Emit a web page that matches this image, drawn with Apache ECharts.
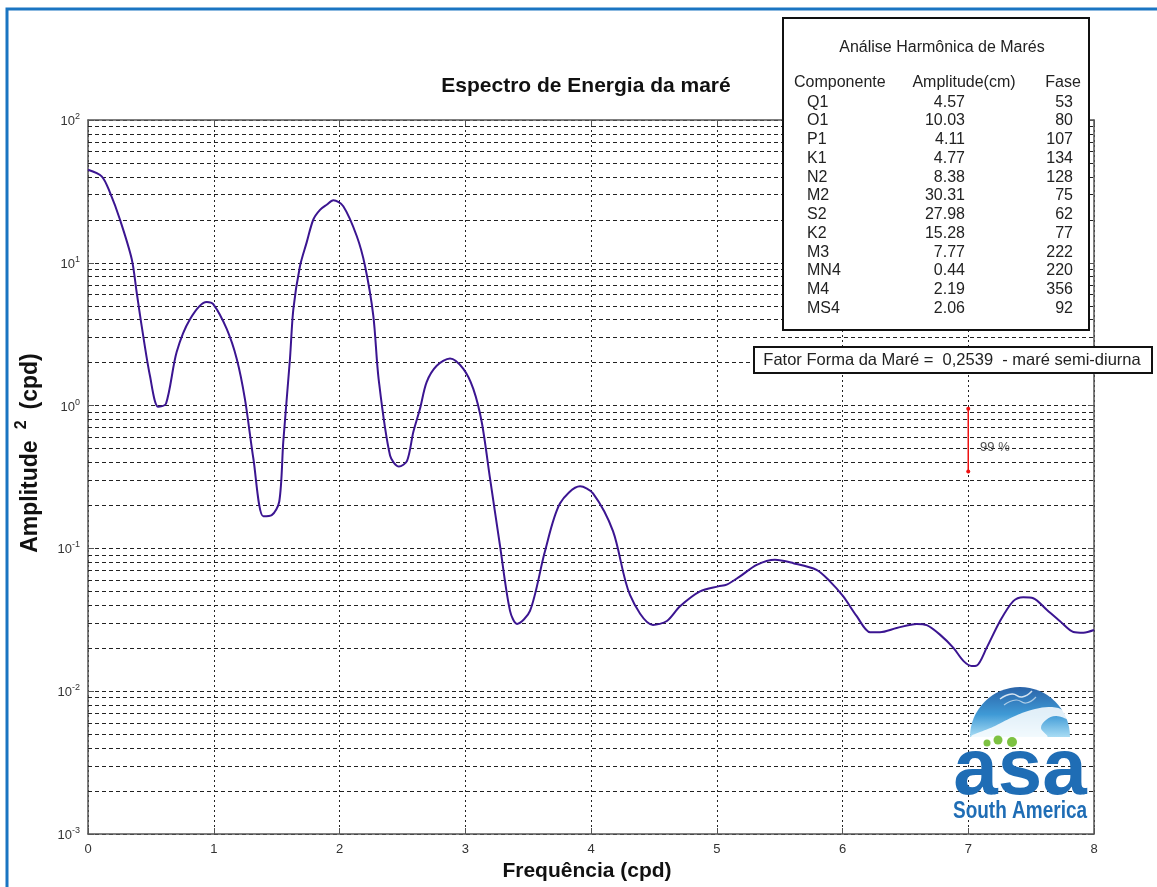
<!DOCTYPE html>
<html>
<head>
<meta charset="utf-8">
<script src="https://cdn.jsdelivr.net/npm/echarts@6/dist/echarts.min.js"></script>
<style>
html,body{margin:0;padding:0;background:#fff;}
#chart{width:1157px;height:887px;}
</style>
</head>
<body>
<div id="chart"></div>
<script>
// ---- Data ----
const freq = [0, 0.109, 0.175, 0.254, 0.348, 0.387, 0.427, 0.493, 0.559, 0.62,
  0.705, 0.811, 0.944, 0.996, 1.103, 1.183, 1.248, 1.315, 1.394, 1.461,
  1.521, 1.553, 1.606, 1.633, 1.686, 1.739, 1.792, 1.845, 1.898, 1.951, 2.03, 2.137,
  2.203, 2.269, 2.311, 2.402, 2.473, 2.537, 2.587, 2.64, 2.693, 2.773,
  2.879, 2.985, 3.064, 3.131, 3.197, 3.276, 3.356, 3.412, 3.515, 3.634,
  3.753, 3.913, 4.016, 4.175, 4.31, 4.493, 4.604, 4.708, 4.867, 5.012,
  5.079, 5.185, 5.318, 5.463, 5.609, 5.794, 5.9, 6.006, 6.113, 6.219,
  6.298, 6.431, 6.59, 6.67, 6.775, 6.882, 6.961, 7.027, 7.067, 7.146,
  7.252, 7.358, 7.437, 7.517, 7.624, 7.73, 7.836, 7.916, 8.0];
const amp = [44.8, 40.3, 31, 20.1, 10.6, 6.22, 3.6, 1.61, 0.98, 1.03,
  2.37, 4.03, 5.32, 5.13, 3.44, 2.12, 1.11, 0.426, 0.168, 0.171,
  0.213, 0.56, 2.12, 4.73, 9.49, 13.9, 20.1, 23.5, 25.5, 27.4, 24.9, 15.4,
  9.5, 4.25, 1.54, 0.447, 0.374, 0.41, 0.653, 0.95, 1.46, 1.9,
  2.14, 1.81, 1.31, 0.767, 0.309, 0.105, 0.0365, 0.0296, 0.0365, 0.0955,
  0.206, 0.272, 0.243, 0.132, 0.0472, 0.0291, 0.031, 0.0393, 0.05, 0.0542,
  0.0557, 0.0637, 0.0767, 0.0832, 0.0788, 0.0708, 0.0588, 0.0461, 0.0335, 0.0259,
  0.0259, 0.0277, 0.0296, 0.029, 0.0249, 0.0201, 0.0163, 0.015, 0.0151, 0.0201,
  0.0309, 0.0427, 0.0455, 0.0448, 0.0372, 0.0309, 0.026, 0.0257, 0.0268];

// 99% confidence bar
const ciFreq = 7;
const ciLow = 0.345;
const ciHigh = 0.95;
const ciLabel = '99 %';
const ciLabelPos = [7.09, 0.51];

// Tick labels
const xTicks = [0, 1, 2, 3, 4, 5, 6, 7, 8];
const yDecades = [-3, -2, -1, 0, 1, 2];

// Harmonic analysis table
const tableTitle = 'Análise Harmônica de Marés';
const tableHeader = ['Componente', 'Amplitude(cm)', 'Fase'];
const components = ['Q1', 'O1', 'P1', 'K1', 'N2', 'M2', 'S2', 'K2', 'M3', 'MN4', 'M4', 'MS4'];
const amplitudes = ['4.57', '10.03', '4.11', '4.77', '8.38', '30.31', '27.98', '15.28', '7.77', '0.44', '2.19', '2.06'];
const phases = ['53', '80', '107', '134', '128', '75', '62', '77', '222', '220', '356', '92'];
const formFactorText = 'Fator Forma da Maré =  0,2539  - maré semi-diurna';

const titleText = 'Espectro de Energia da maré';
const xName = 'Frequência (cpd)';

// ---- Build ----
const lineData = freq.map((f, i) => [f, amp[i]]);

const gridVals = [];
for (let k = yDecades[0]; k < yDecades[yDecades.length - 1]; k++) {
  for (let m = 2; m <= 9; m++) gridVals.push(+(m * Math.pow(10, k)).toPrecision(3));
}
const xMin = xTicks[0], xMax = xTicks[xTicks.length - 1];

const FONT = "'Liberation Sans', Arial, sans-serif";

const chart = echarts.init(document.getElementById('chart'), null, {renderer: 'canvas'});

const L = 88, R = 1094, T = 120, B = 837;

const TF = '16px ' + FONT;
const tbl = [];
tbl.push({type: 'rect', shape: {x: 783, y: 18, width: 306, height: 312},
  style: {fill: '#fff', stroke: '#111', lineWidth: 2}, z: 100});
tbl.push({type: 'text', x: 942, y: 48, z: 101,
  style: {text: tableTitle, font: TF, fill: '#222', textAlign: 'center', textVerticalAlign: 'middle'}});
tbl.push({type: 'text', x: 794, y: 83, z: 101,
  style: {text: tableHeader[0], font: TF, fill: '#222', textAlign: 'left', textVerticalAlign: 'middle'}});
tbl.push({type: 'text', x: 964, y: 83, z: 101,
  style: {text: tableHeader[1], font: TF, fill: '#222', textAlign: 'center', textVerticalAlign: 'middle'}});
tbl.push({type: 'text', x: 1063, y: 83, z: 101,
  style: {text: tableHeader[2], font: TF, fill: '#222', textAlign: 'center', textVerticalAlign: 'middle'}});
components.forEach((c, i) => {
  const y = 102.3 + i * 18.73;
  tbl.push({type: 'text', x: 807, y: y, z: 101,
    style: {text: c, font: TF, fill: '#222', textAlign: 'left', textVerticalAlign: 'middle'}});
  tbl.push({type: 'text', x: 965, y: y, z: 101,
    style: {text: amplitudes[i], font: TF, fill: '#222', textAlign: 'right', textVerticalAlign: 'middle'}});
  tbl.push({type: 'text', x: 1073, y: y, z: 101,
    style: {text: phases[i], font: TF, fill: '#222', textAlign: 'right', textVerticalAlign: 'middle'}});
});
tbl.push({type: 'rect', shape: {x: 754, y: 347, width: 398, height: 26},
  style: {fill: '#fff', stroke: '#111', lineWidth: 2}, z: 100});
tbl.push({type: 'text', x: 952, y: 360, z: 101,
  style: {text: formFactorText, font: '16.5px ' + FONT, fill: '#222', textAlign: 'center', textVerticalAlign: 'middle'}});

tbl.push({type: 'rect', shape: {x: 7, y: 9, width: 1200, height: 950},
  style: {fill: 'none', stroke: '#1a75c2', lineWidth: 3}, z: 120, silent: true});

const logo = [
  {type: 'sector', shape: {cx: 1020, cy: 737, r0: 0, r: 50, startAngle: Math.PI, endAngle: 2 * Math.PI},
    style: {fill: new echarts.graphic.LinearGradient(0, 0, 0, 1, [
      {offset: 0, color: '#2a63a8'}, {offset: 0.55, color: '#3f9ad6'}, {offset: 1, color: '#a8dcf4'}])}, z: 110},
  {type: 'polygon', shape: {points: [[972, 737], [995, 726], [1015, 716], [1035, 709], [1052, 707], [1064, 711], [1069, 719], [1056, 716], [1046, 720], [1041, 728], [1047, 737]], smooth: 0.4},
    style: {fill: 'rgba(255,255,255,0.85)'}, z: 111},
  {type: 'polyline', shape: {points: [[1000, 699], [1012, 694], [1022, 697], [1032, 691]], smooth: 0.5},
    style: {fill: 'none', stroke: 'rgba(255,255,255,0.8)', lineWidth: 1.5}, z: 111},
  {type: 'polyline', shape: {points: [[1004, 705], [1016, 700], [1026, 703], [1036, 697]], smooth: 0.5},
    style: {fill: 'none', stroke: 'rgba(255,255,255,0.6)', lineWidth: 1.2}, z: 111},
  {type: 'circle', shape: {cx: 987, cy: 743, r: 3.5}, style: {fill: '#7dc242'}, z: 112},
  {type: 'circle', shape: {cx: 998, cy: 740, r: 4.5}, style: {fill: '#7dc242'}, z: 112},
  {type: 'circle', shape: {cx: 1012, cy: 742, r: 5}, style: {fill: '#7dc242'}, z: 112},
  {type: 'text', x: 1020, y: 812, z: 111,
    style: {text: 'asa', font: 'bold 80px ' + FONT, fill: '#1f6db5', textAlign: 'center', textVerticalAlign: 'bottom'}},
  {type: 'text', x: 1020, y: 811, scaleY: 1.25, z: 111,
    style: {text: 'South America', font: 'bold 19px ' + FONT, fill: '#1f6db5', textAlign: 'center', textVerticalAlign: 'middle'}}
];

const option = {
  animation: false,
  backgroundColor: '#fff',
  title: {
    text: titleText, left: 581, top: 71, textAlign: 'center',
    textStyle: {fontFamily: FONT, fontWeight: 'bold', fontSize: 21, color: '#111'}
  },
  grid: {left: L, right: 1157 - R, top: T, bottom: 887 - B, containLabel: false},
  xAxis: [{
    type: 'value', min: xMin, max: xMax, interval: 1,
    name: xName, nameLocation: 'middle', nameGap: 27,
    nameTextStyle: {fontFamily: FONT, fontWeight: 'bold', fontSize: 21, color: '#111', verticalAlign: 'top', padding: [0, 8, 0, 0]},
    axisLine: {show: true, onZero: false, lineStyle: {color: '#555', width: 1.5}},
    axisTick: {show: true, inside: true, length: 6, lineStyle: {color: '#555'}},
    axisLabel: {fontFamily: FONT, fontSize: 13, color: '#333', margin: 9,
      formatter: v => xTicks.indexOf(v) >= 0 ? String(v) : ''},
    splitLine: {show: true, lineStyle: {color: '#222', type: [2, 3], width: 1}}
  }, {
    type: 'value', min: xMin, max: xMax, interval: 1, position: 'top',
    axisLine: {show: true, onZero: false, lineStyle: {color: '#555', width: 1.5}},
    axisTick: {show: true, inside: true, length: 6, lineStyle: {color: '#555'}},
    axisLabel: {show: false}, splitLine: {show: false}
  }],
  yAxis: [{
    type: 'log', logBase: 10, min: 0.001, max: 100, splitNumber: 5,
    name: '{a1|Amplitude}{s|2}{a2|(cpd)}', nameLocation: 'middle', nameGap: 46, nameRotate: 90,
    nameTextStyle: {
      rich: {
        a1: {fontFamily: FONT, fontWeight: 'bold', fontSize: 23, color: '#111', verticalAlign: 'bottom', lineHeight: 28, padding: [0, 0, 0, 48]},
        a2: {fontFamily: FONT, fontWeight: 'bold', fontSize: 23, color: '#111', verticalAlign: 'bottom', lineHeight: 28},
        s: {fontFamily: FONT, fontWeight: 'bold', fontSize: 16, color: '#111', verticalAlign: 'top', lineHeight: 28, padding: [0, 11, 12, 11]}
      }
    },
    axisLine: {show: true, onZero: false, lineStyle: {color: '#555', width: 1.5}},
    axisTick: {show: true, inside: true, length: 6, lineStyle: {color: '#555'}},
    axisLabel: {
      margin: 8,
      formatter: v => {
        const e = Math.round(Math.log10(v));
        return '{b|10}{s|' + e + '}';
      },
      rich: {
        b: {fontFamily: FONT, fontSize: 13, color: '#333', verticalAlign: 'bottom', lineHeight: 16},
        s: {fontFamily: FONT, fontSize: 9, color: '#333', verticalAlign: 'top', lineHeight: 16, padding: [0, 0, 8, 0]}
      }
    },
    splitLine: {show: true, lineStyle: {color: '#222', type: [4, 3], width: 1}}
  }, {
    type: 'log', logBase: 10, min: 0.001, max: 100, splitNumber: 5, position: 'right',
    axisLine: {show: true, onZero: false, lineStyle: {color: '#555', width: 1.5}},
    axisTick: {show: true, inside: true, length: 6, lineStyle: {color: '#555'}},
    axisLabel: {show: false}, splitLine: {show: false}
  }],
  series: [
    {
      type: 'lines', coordinateSystem: 'cartesian2d', z: 1, silent: true, polyline: false,
      lineStyle: {color: '#222', type: [4, 3], width: 1, opacity: 1},
      data: gridVals.map(v => ({coords: [[xMin, v], [xMax, v]]}))
    },
    {
      name: 'Espectro', type: 'line', data: lineData, smooth: 0.3, showSymbol: false, z: 5,
      lineStyle: {color: '#3b1591', width: 2}, itemStyle: {color: '#3b1591'}
    },
    {
      type: 'line', data: [[ciFreq, ciHigh], [ciFreq, ciLow]], z: 6,
      symbol: 'circle', symbolSize: 4, showSymbol: true,
      lineStyle: {color: '#ee1111', width: 1.5}, itemStyle: {color: '#ee1111'}
    },
    {
      type: 'scatter', data: [ciLabelPos], symbolSize: 1, z: 6,
      itemStyle: {color: 'rgba(0,0,0,0)'},
      label: {show: true, position: 'right', distance: 0, formatter: ciLabel,
        fontFamily: FONT, fontSize: 13, color: '#222'}
    }
  ],
  graphic: {elements: tbl.concat(logo)}
};
chart.setOption(option);
</script>
</body>
</html>
